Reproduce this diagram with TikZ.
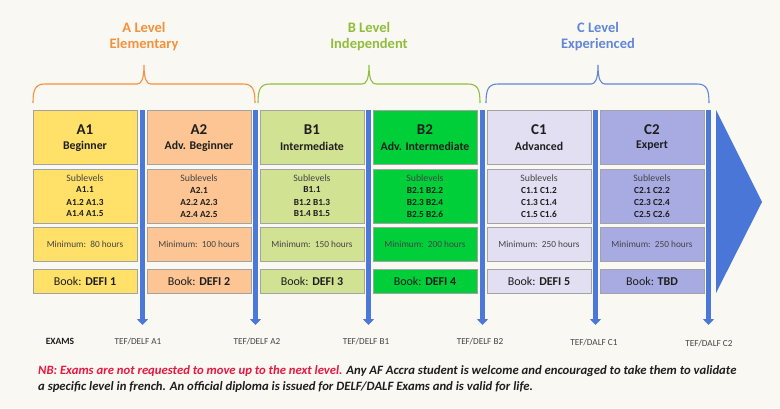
\documentclass[tikz,border=0pt]{standalone}
\usepackage{fontspec}
\setmainfont{Carlito}
\usetikzlibrary{arrows.meta}
\definecolor{bgc}{HTML}{FAF8F3}
\definecolor{bord}{HTML}{A3A3A3}
\definecolor{barc}{HTML}{4C78D8}
\definecolor{triC}{HTML}{4A76D7}
\definecolor{cA1}{HTML}{FFE169}
\definecolor{cA2}{HTML}{FDC593}
\definecolor{cB1}{HTML}{D2E293}
\definecolor{cB2}{HTML}{00CF3A}
\definecolor{cC1}{HTML}{E2DFF2}
\definecolor{cC2}{HTML}{A8ABE2}
\definecolor{orA}{HTML}{F5913C}
\definecolor{grB}{HTML}{90BE3C}
\definecolor{blC}{HTML}{6286DA}
\definecolor{txt}{HTML}{1E1E1E}
\definecolor{soft}{HTML}{444444}
\definecolor{nbred}{HTML}{E8173F}
\tikzset{
  lvlbox/.style={draw=bord, line width=0.8pt},
  bigtitle/.style={font=\fontsize{15}{17}\selectfont\bfseries, text=txt, inner sep=0pt},
  subtitle/.style={font=\fontsize{11.8}{13}\selectfont\bfseries, text=txt, inner sep=0pt},
  sublbl/.style={font=\fontsize{9.8}{11}\selectfont, text=soft, inner sep=0pt},
  subcode/.style={font=\fontsize{9.3}{11}\selectfont\bfseries, text=txt, inner sep=0pt},
  hrs/.style={font=\fontsize{9.3}{11}\selectfont, text=soft, inner sep=0pt},
  booklbl/.style={font=\fontsize{12}{14}\selectfont, text=txt, inner sep=0pt},
  exam/.style={font=\fontsize{9.2}{11}\selectfont, text=soft, inner sep=0pt},
  bar/.style={draw=barc, line width=5pt, line cap=butt, -{Triangle[width=11pt,length=6pt]}},
  brace/.style={line width=1.1pt},
  lvltitle/.style={font=\fontsize{14.5}{16}\selectfont\bfseries, inner sep=0pt},
}
\newcommand{\lvlcolumn}[9]{%
  % #1 name, #2 left x, #3 fill, #4 title, #5 subtitle, #6 #7 #8 sublevel lines, #9 hours
  \path[lvlbox, fill=#3] (#2,110) rectangle ++(104,54);
  \node[bigtitle] (#1t) at (#2+52,130) {#4};
  \node[subtitle] (#1s) at (#2+52,146) {#5};
  \path[lvlbox, fill=#3] (#2,169) rectangle ++(104,54);
  \node[sublbl] (#1l) at (#2+52,178) {Sublevels};
  \node[subcode] (#1a) at (#2+52,190) {#6};
  \node[subcode] (#1b) at (#2+52,202) {#7};
  \node[subcode] (#1c) at (#2+52,214) {#8};
  \path[lvlbox, fill=#3] (#2,227) rectangle ++(104,34);
  \node[hrs] (#1h) at (#2+52,244) {Minimum:\ \ #9 hours};
  \path[lvlbox, fill=#3] (#2,269) rectangle ++(104,24);
}
\begin{document}
\begin{tikzpicture}[x=1pt,y=-1pt]
\fill[bgc] (0,0) rectangle (780,408);
\useasboundingbox (0,0) rectangle (780,408);

% level titles
\node[lvltitle, text=orA] (tA1) at (144,27) {A Level};
\node[lvltitle, text=orA] (tA2) at (144,45) {Elementary};
\node[lvltitle, text=grB] (tB1) at (369,27) {B Level};
\node[lvltitle, text=grB] (tB2) at (369,45) {Independent};
\node[lvltitle, text=blC] (tC1) at (598,27) {C Level};
\node[lvltitle, text=blC] (tC2) at (598,45) {Experienced};

% braces
\draw[brace, orA] (33,103) .. controls (33,90) and (35,84) .. (45,84) -- (137,84)
  .. controls (141,84) and (144,80) .. (144,65)
  .. controls (144,80) and (147,84) .. (151,84) -- (243,84)
  .. controls (253,84) and (255,90) .. (255,103);
\draw[brace, grB] (258,103) .. controls (258,90) and (260,84) .. (270,84) -- (362,84)
  .. controls (366,84) and (369,80) .. (369,65)
  .. controls (369,80) and (372,84) .. (376,84) -- (468,84)
  .. controls (478,84) and (480,90) .. (480,103);
\draw[brace, blC] (486,103) .. controls (486,90) and (488,84) .. (498,84) -- (591,84)
  .. controls (595,84) and (598,80) .. (598,65)
  .. controls (598,80) and (601,84) .. (605,84) -- (697,84)
  .. controls (707,84) and (709,90) .. (709,103);

% columns
\lvlcolumn{a1}{33}{cA1}{A1}{Beginner}{A1.1}{A1.2 A1.3}{A1.4 A1.5}{80}
\lvlcolumn{a2}{147}{cA2}{A2}{Adv. Beginner}{A2.1}{A2.2 A2.3}{A2.4 A2.5}{100}
\lvlcolumn{b1}{260}{cB1}{B1}{Intermediate}{B1.1}{B1.2 B1.3}{B1.4 B1.5}{150}
\lvlcolumn{b2}{373}{cB2}{B2}{Adv. Intermediate}{B2.1 B2.2}{B2.3 B2.4}{B2.5 B2.6}{200}
\lvlcolumn{c1}{487}{cC1}{C1}{Advanced}{C1.1 C1.2}{C1.3 C1.4}{C1.5 C1.6}{250}
\lvlcolumn{c2}{600}{cC2}{C2}{Expert}{C2.1 C2.2}{C2.3 C2.4}{C2.5 C2.6}{250}

\node[booklbl] (bk1) at (85,281) {Book: \textbf{DEFI 1}};
\node[booklbl] (bk2) at (199,281) {Book: \textbf{DEFI 2}};
\node[booklbl] (bk3) at (312,281) {Book: \textbf{DEFI 3}};
\node[booklbl] (bk4) at (425,281) {Book: \textbf{DEFI 4}};
\node[booklbl] (bk5) at (539,281) {Book: \textbf{DEFI 5}};
\node[booklbl] (bk6) at (652,281) {Book: \textbf{TBD}};

% vertical bars
\foreach \i/\x in {1/142.5,2/255.5,3/368.5,4/482.5,5/595.5,6/708.5}{
  \coordinate (bt\i) at (\x,110);
  \coordinate (bb\i) at (\x,325);
  \draw[bar] (bt\i) -- (bb\i);
}

% big arrow
\fill[triC] (716,110) -- (762,202) -- (716,293) -- cycle;

% exams
\node[exam, font=\fontsize{9.5}{11}\selectfont\bfseries, text=txt] (ex) at (60,341) {EXAMS};
\node[exam] (e1) at (138,341) {TEF/DELF A1};
\node[exam] (e2) at (257,341) {TEF/DELF A2};
\node[exam] (e3) at (366,341) {TEF/DELF B1};
\node[exam] (e4) at (480,341) {TEF/DELF B2};
\node[exam] (e5) at (594,342) {TEF/DALF C1};
\node[exam] (e6) at (709,343) {TEF/DALF C2};

% note
\node[anchor=west, inner sep=0pt, font=\fontsize{12.7}{16}\selectfont\bfseries\itshape, text=txt, align=left] (nb) at (38,379)
  {\textcolor{nbred}{NB: Exams are not requested to move up to the next level.} Any AF Accra student is welcome and encouraged to take them to validate\\
   a specific level in french. An official diploma is issued for DELF/DALF Exams and is valid for life.};
\end{tikzpicture}
\end{document}
